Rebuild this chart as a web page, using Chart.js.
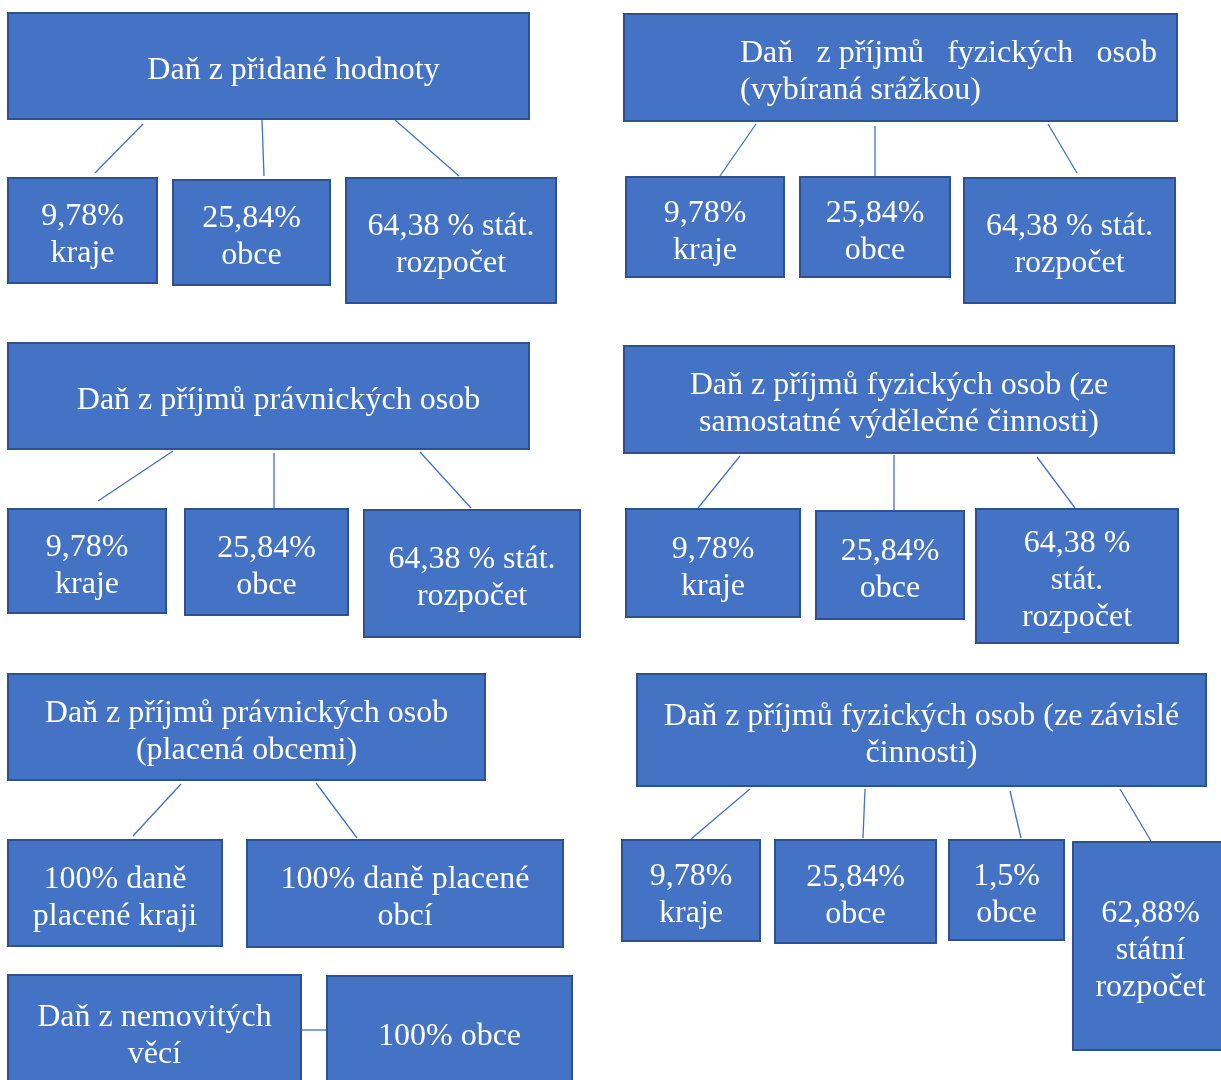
<!DOCTYPE html>
<html>
<head>
<meta charset="utf-8">
<script src="https://cdn.jsdelivr.net/npm/chart.js@4.4.1/dist/chart.umd.min.js"></script>
<style>
html,body{margin:0;padding:0;background:#fff;}
canvas{display:block;}
</style>
</head>
<body>
<canvas id="c" width="1221" height="1080"></canvas>
<script>
// ---- DATA (texts) ----
const taxTitles = [
  ["Daň z přidané hodnoty"],
  ["Daň z\u00a0příjmů fyzických osob", "(vybíraná srážkou)"],
  ["Daň z příjmů právnických osob"],
  ["Daň z příjmů fyzických osob (ze", "samostatné výdělečné činnosti)"],
  ["Daň z příjmů právnických osob", "(placená obcemi)"],
  ["Daň z příjmů fyzických osob (ze závislé", "činnosti)"],
  ["Daň z nemovitých", "věcí"]
];
const sharesDPH = [["9,78%", "kraje"], ["25,84%", "obce"], ["64,38 % stát.", "rozpočet"]];
const sharesFOsrazka = [["9,78%", "kraje"], ["25,84%", "obce"], ["64,38 % stát.", "rozpočet"]];
const sharesPO = [["9,78%", "kraje"], ["25,84%", "obce"], ["64,38 % stát.", "rozpočet"]];
const sharesFOosvc = [["9,78%", "kraje"], ["25,84%", "obce"], ["64,38 %", "stát.", "rozpočet"]];
const sharesPOobce = [["100% daně", "placené kraji"], ["100% daně placené", "obcí"]];
const sharesFOzav = [["9,78%", "kraje"], ["25,84%", "obce"], ["1,5%", "obce"], ["62,88%", "státní", "rozpočet"]];
const sharesNem = [["100% obce"]];

// ---- LAYOUT (positions in diagram coordinates) ----
const titleBoxes = [
  [8, 13, 529, 119],
  [624, 14, 1177, 121],
  [8, 343, 529, 449],
  [624, 346, 1174, 453],
  [8, 674, 485, 780],
  [637, 674, 1206, 786],
  [8, 975, 301, 1088]
];
const titleDx = [25, 0, 10, 0, 0, 0, 0];
const titleAlign = ["center", "justify", "center", "center", "center", "center", "center"];
const justifyRange = [null, [740, 1157], null, null, null, null, null];
const shareBoxes = [
  [[8, 178, 157, 283], [173, 180, 330, 285], [346, 178, 556, 303]],
  [[626, 177, 784, 277], [800, 177, 950, 277], [964, 178, 1175, 303]],
  [[8, 509, 166, 613], [185, 509, 348, 615], [364, 510, 580, 637]],
  [[626, 509, 800, 617], [816, 511, 964, 619], [976, 509, 1178, 643]],
  [[8, 840, 222, 946], [247, 840, 563, 947]],
  [[622, 840, 760, 941], [775, 840, 936, 943], [949, 840, 1064, 940], [1073, 842, 1228, 1050]],
  [[327, 976, 572, 1088]]
];
const connectors = [
  [[143,124],[95,173]], [[262,120],[264,176]], [[395,120],[459,176]],
  [[756,124],[720,176]], [[875,126],[875,176]], [[1048,124],[1077,173]],
  [[173,451],[98,501]], [[274,453],[274,508]], [[420,452],[471,508]],
  [[740,456],[698,508]], [[894,455],[894,510]], [[1037,457],[1075,508]],
  [[181,784],[133,836]], [[316,783],[357,838]],
  [[750,789],[691,839]], [[865,789],[863,838]], [[1010,791],[1021,838]], [[1120,789],[1151,841]],
  [[301,1030],[327,1030]]
];
const shareGroups = [sharesDPH, sharesFOsrazka, sharesPO, sharesFOosvc, sharesPOobce, sharesFOzav, sharesNem];

// ---- STYLE ----
const FILL = "#4472C4";
const BORDER = "#2F528F";
const FONT = "32px 'Liberation Serif', 'Times New Roman', serif";
const LINE_H = 37;
const TEXT_DY = 5;

const boxPlugin = {
  id: "boxes",
  afterDatasetsDraw(chart) {
    const ctx = chart.ctx, xs = chart.scales.x, ys = chart.scales.y;
    const px = v => xs.getPixelForValue(v), py = v => ys.getPixelForValue(v);
    function drawBox(r, lines, align, jr, dx) {
      const x0 = px(r[0]), y0 = py(r[1]), x1 = px(r[2]), y1 = py(r[3]);
      ctx.save();
      ctx.fillStyle = FILL;
      ctx.fillRect(x0, y0, x1 - x0, y1 - y0);
      ctx.strokeStyle = BORDER;
      ctx.lineWidth = 2;
      ctx.strokeRect(x0, y0, x1 - x0, y1 - y0);
      ctx.fillStyle = "#fff";
      ctx.font = FONT;
      ctx.textBaseline = "middle";
      const cx = (x0 + x1) / 2 + (dx || 0), cy = (y0 + y1) / 2 + TEXT_DY;
      const startY = cy - (lines.length - 1) * LINE_H / 2;
      lines.forEach((ln, i) => {
        const y = startY + i * LINE_H;
        if (align === "justify") {
          const L = px(jr[0]), R = px(jr[1]);
          ctx.textAlign = "left";
          if (i < lines.length - 1) {
            const words = ln.split(" ");
            const wsum = words.reduce((s, w) => s + ctx.measureText(w).width, 0);
            const gap = (R - L - wsum) / (words.length - 1);
            let x = L;
            words.forEach(w => { ctx.fillText(w, x, y); x += ctx.measureText(w).width + gap; });
          } else {
            ctx.fillText(ln, L, y);
          }
        } else {
          ctx.textAlign = "center";
          ctx.fillText(ln, cx, y);
        }
      });
      ctx.restore();
    }
    titleBoxes.forEach((r, i) => drawBox(r, taxTitles[i], titleAlign[i], justifyRange[i], titleDx[i]));
    shareBoxes.forEach((grp, g) => grp.forEach((r, k) => drawBox(r, shareGroups[g][k], "center", null, 0)));
  }
};

const datasets = connectors.map(c => ({
  data: c.map(p => ({ x: p[0], y: p[1] })),
  showLine: true,
  borderColor: FILL,
  borderWidth: 1.3,
  pointRadius: 0,
  fill: false
}));

new Chart(document.getElementById("c"), {
  type: "scatter",
  data: { datasets },
  options: {
    responsive: false,
    animation: false,
    devicePixelRatio: 1,
    layout: { padding: 0 },
    plugins: { legend: { display: false }, tooltip: { enabled: false } },
    scales: {
      x: { type: "linear", min: 0, max: 1221, display: false },
      y: { type: "linear", min: 0, max: 1080, reverse: true, display: false }
    }
  },
  plugins: [boxPlugin]
});
</script>
</body>
</html>
